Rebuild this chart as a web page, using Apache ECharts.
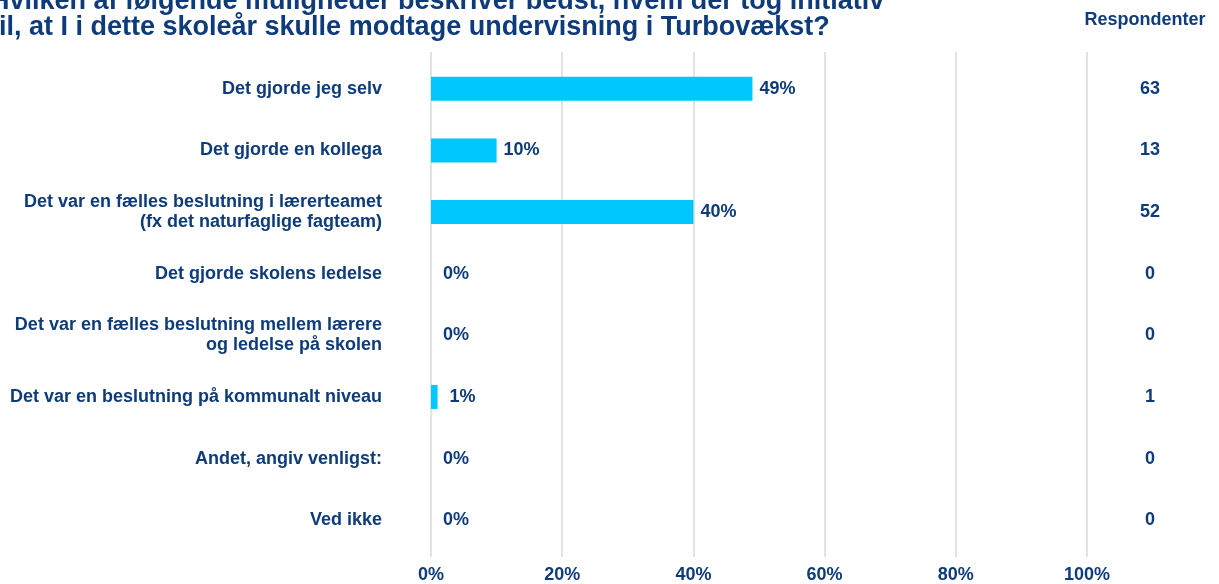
<!DOCTYPE html>
<html>
<head>
<meta charset="utf-8">
<script src="https://cdn.jsdelivr.net/npm/echarts@6/dist/echarts.min.js"></script>
<style>
  html, body { margin: 0; padding: 0; background: #ffffff; }
  #chart { width: 1219px; height: 584px; }
</style>
</head>
<body>
<div id="chart"></div>
<script>
// Answer options (top to bottom)
const categories = [
  'Det gjorde jeg selv',
  'Det gjorde en kollega',
  'Det var en fælles beslutning i lærerteamet\n(fx det naturfaglige fagteam)',
  'Det gjorde skolens ledelse',
  'Det var en fælles beslutning mellem lærere\nog ledelse på skolen',
  'Det var en beslutning på kommunalt niveau',
  'Andet, angiv venligst:',
  'Ved ikke'
];
// Share of answers in percent
const percents = [49, 10, 40, 0, 0, 1, 0, 0];
// Number of respondents per answer
const respondents = [63, 13, 52, 0, 0, 1, 0, 0];
// Value axis ticks
const xTicks = [0, 20, 40, 60, 80, 100];

const titleText = 'Hvilken af følgende muligheder beskriver bedst, hvem der tog initiativ\ntil, at I i dette skoleår skulle modtage undervisning i Turbovækst?';
const headerText = 'Respondenter';

const navy = '#0e3b7a';
const font = '"Liberation Sans", Arial, Helvetica, sans-serif';

const chart = echarts.init(document.getElementById('chart'), null, { renderer: 'canvas' });

const tickStep = xTicks[1] - xTicks[0];

chart.setOption({
  animation: false,
  backgroundColor: '#ffffff',
  textStyle: { fontFamily: font },
  title: {
    text: titleText,
    left: -15,
    top: -16,
    textStyle: { color: navy, fontSize: 27, fontWeight: 'bold', fontFamily: font, lineHeight: 26 }
  },
  graphic: [{
    type: 'text',
    x: 1145,
    y: 20,
    style: {
      text: headerText,
      fill: navy,
      font: 'bold 18px ' + font,
      textAlign: 'center',
      textVerticalAlign: 'middle'
    }
  }],
  grid: [
    { left: 431, right: 132, top: 58, bottom: 32 },
    // taller grid only carrying the vertical gridlines
    { left: 431, right: 132, top: 52, bottom: 27 }
  ],
  xAxis: [{
    gridIndex: 0,
    type: 'value',
    min: xTicks[0],
    max: xTicks[xTicks.length - 1],
    interval: tickStep,
    axisLine: { show: false },
    axisTick: { show: false },
    splitLine: { show: false },
    axisLabel: {
      color: navy, fontSize: 18, fontWeight: 'bold', fontFamily: font, margin: 15,
      formatter: v => v + '%'
    }
  }, {
    gridIndex: 1,
    type: 'value',
    min: xTicks[0],
    max: xTicks[xTicks.length - 1],
    interval: tickStep,
    axisLine: { show: false },
    axisTick: { show: false },
    axisLabel: { show: false },
    splitLine: { show: true, lineStyle: { color: '#e2e2e2', width: 2 } }
  }],
  yAxis: [{
    gridIndex: 0,
    type: 'category',
    inverse: true,
    data: categories,
    axisLine: { show: false },
    axisTick: { show: false },
    axisLabel: {
      color: navy, fontSize: 18, fontWeight: 'bold', fontFamily: font,
      margin: 49, align: 'right', lineHeight: 20
    }
  }, {
    gridIndex: 0,
    type: 'category',
    position: 'right',
    inverse: true,
    data: respondents.map(String),
    axisLine: { show: false },
    axisTick: { show: false },
    axisLabel: {
      color: navy, fontSize: 18, fontWeight: 'bold', fontFamily: font,
      margin: 63, align: 'center'
    }
  }, {
    gridIndex: 1,
    type: 'category',
    data: categories,
    show: false
  }],
  series: [{
    type: 'bar',
    xAxisIndex: 0,
    yAxisIndex: 0,
    barWidth: 24,
    itemStyle: { color: '#00c8ff' },
    data: percents.map(v => ({
      value: v,
      label: { distance: v < 5 ? 12 : 7 }
    })),
    label: {
      show: true,
      position: 'right',
      color: navy,
      fontSize: 18,
      fontWeight: 'bold',
      fontFamily: font,
      formatter: p => p.value + '%'
    }
  }]
});
</script>
</body>
</html>
